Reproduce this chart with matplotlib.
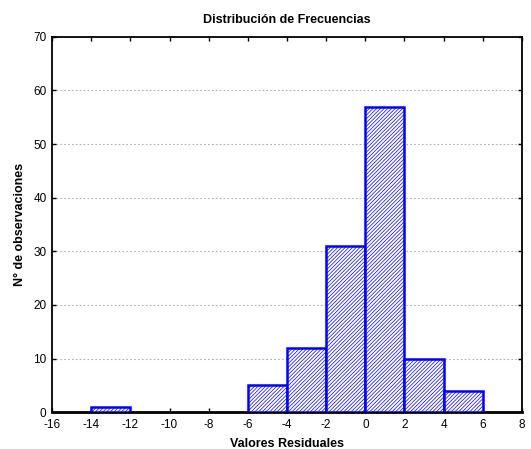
import numpy as np
import matplotlib.pyplot as plt

plt.rcParams['font.family'] = ['Liberation Sans', 'DejaVu Sans']
plt.rcParams['axes.unicode_minus'] = False
plt.rcParams['hatch.linewidth'] = 0.5

# bin edges and counts
bin_left = [-14, -6, -4, -2, 0, 2, 4]
counts = [1, 5, 12, 31, 57, 10, 4]
bin_width = 2
xticks = list(range(-16, 9, 2))
yticks = list(range(0, 71, 10))

fig = plt.figure(figsize=(5.31, 4.49), dpi=100)
ax = fig.add_axes([0.098, 0.082, 0.885, 0.836])

ax.bar(bin_left, counts, width=bin_width, align='edge', color='white',
       edgecolor='#0000ff', linewidth=1.8, hatch='/////////', zorder=3)

ax.set_xlim(-16, 8)
ax.set_ylim(0, 70)
ax.set_xticks(xticks)
ax.set_yticks(yticks)
ax.tick_params(direction='in', top=True, right=True, labelsize=8.5, length=3, width=1)
ax.tick_params(axis='x', pad=5)
ax.tick_params(axis='y', pad=4)
ax.yaxis.grid(True, linestyle=(0, (1.5, 2)), color='#b0b0b0', linewidth=0.8, zorder=0)

for s in ax.spines.values():
    s.set_linewidth(1.3)
ax.spines['bottom'].set_linewidth(2)

ax.set_title('Distribución de Frecuencias', fontsize=9, fontweight='bold', pad=10)
ax.set_xlabel('Valores Residuales', fontsize=9, fontweight='bold', labelpad=5)
ax.set_ylabel('N° de observaciones', fontsize=9, fontweight='bold', labelpad=5)

fig.savefig('out.png', dpi=100)
